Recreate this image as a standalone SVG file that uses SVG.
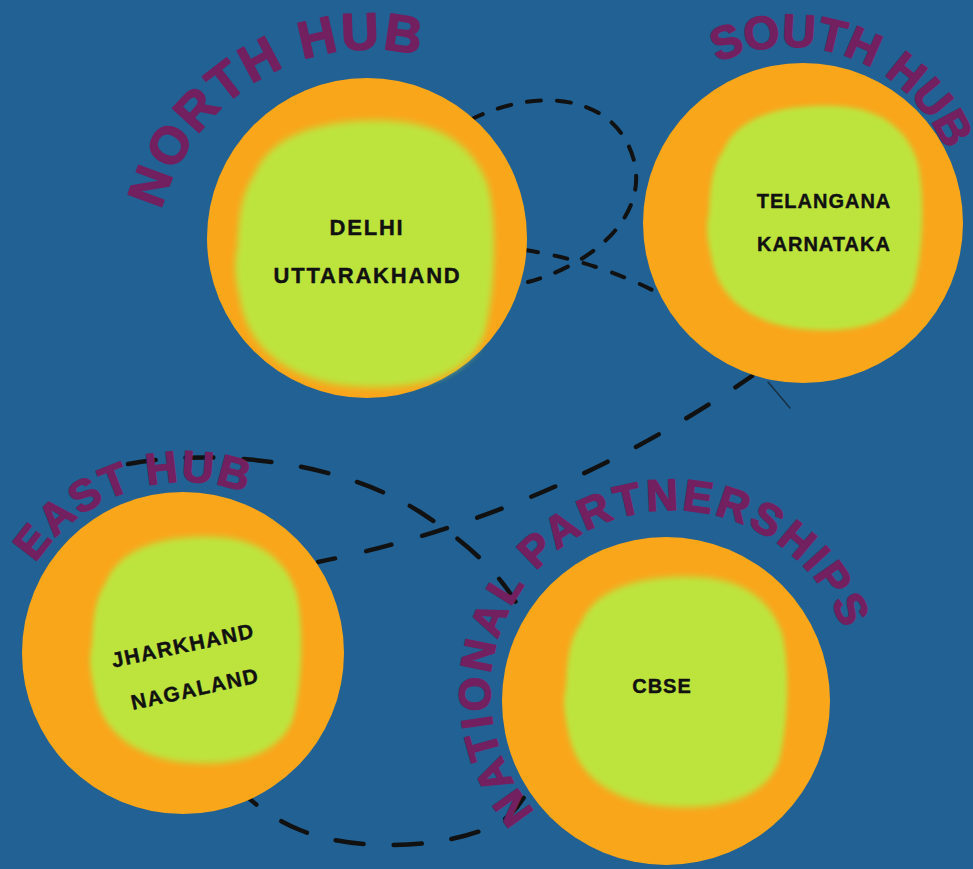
<svg xmlns="http://www.w3.org/2000/svg" xmlns:xlink="http://www.w3.org/1999/xlink" width="973" height="869" viewBox="0 0 973 869">
  <defs>
    <style>
      .ring { fill: #f9a61b; }
      .blob { fill: #bde43c; filter: url(#soft); }
      .label { font-family: "Liberation Sans", Arial, sans-serif; font-weight: 700; fill: #111111; stroke: #111111; stroke-width: 0.4; text-anchor: middle; }
      .title { font-family: "Liberation Sans", Arial, sans-serif; font-weight: 700; fill: #72205f; stroke: #72205f; stroke-width: 1.6; stroke-linejoin: round; text-anchor: middle; }
      .dash { fill: none; stroke: #111111; stroke-linecap: round; }
    </style>
    <filter id="soft" x="-20%" y="-20%" width="140%" height="140%">
      <feGaussianBlur stdDeviation="2.6"/>
    </filter>
    <path id="blobShape" d="M -85,-60 C -70,-95 -20,-102 20,-100 C 60,-98 85,-80 95,-50 C 102,-20 100,30 92,60 C 80,92 40,102 0,100 C -45,99 -85,80 -95,40 C -99,20 -102,10 -98,-5 C -97,-30 -95,-45 -85,-60 Z"/>
    <path id="arcNorth" d="M 182.4,372 A 216 216 0 0 1 553.8,151.5"/>
    <path id="arcSouth" d="M 632.4,151.3 A 170 170 0 0 1 949.7,273.1"/>
    <path id="arcEast" d="M 14.1,713.2 A 179 179 0 0 1 353.9,600.8"/>
    <path id="arcNational" d="M 581.8,850.1 A 182 182 0 1 1 854,691"/>
  </defs>

  <rect x="0" y="0" width="973" height="869" fill="#216193"/>

  <g id="connectors">
    <path class="dash" stroke-width="4" stroke-dasharray="14 16" d="M 470,120 C 540,85 620,95 635,165 C 645,220 590,265 528,282"/>
    <path class="dash" stroke-width="4" stroke-dasharray="13 17" d="M 525,250 Q 600,262 662,295"/>
    <path class="dash" stroke-width="4.5" stroke-dasharray="26 32" stroke-dashoffset="6" d="M 752,376 Q 550,515 318,562"/>
    <path class="dash" stroke-width="4.5" stroke-dasharray="28 30" d="M 128,464 C 200,450 330,455 420,512 C 470,545 520,585 535,650 C 550,720 545,780 510,815 C 470,848 360,855 300,830 C 275,820 255,805 240,790"/>
    <path class="dash" stroke-width="1.5" stroke-opacity="0.6" d="M 768,382 L 790,408"/>
  </g>

  <g id="north-hub">
    <circle class="ring" cx="367" cy="238" r="160"/>
    <use href="#blobShape" class="blob" transform="translate(365,254) scale(1.3,1.33)"/>
    <text class="label" x="367" y="235" font-size="22" letter-spacing="1.8">DELHI</text>
    <text class="label" x="367.5" y="283" font-size="22" letter-spacing="1.8">UTTARAKHAND</text>
  </g>

  <g id="south-hub">
    <circle class="ring" cx="803" cy="223" r="160"/>
    <use href="#blobShape" class="blob" transform="translate(815,218) scale(1.08,1.12)"/>
    <text class="label" x="824" y="208" font-size="20" letter-spacing="1">TELANGANA</text>
    <text class="label" x="824" y="251" font-size="20" letter-spacing="1">KARNATAKA</text>
  </g>

  <g id="east-hub">
    <circle class="ring" cx="183" cy="653" r="161"/>
    <use href="#blobShape" class="blob" transform="translate(196,650) scale(1.06,1.13)"/>
    <text class="label" x="184.5" y="652.5" font-size="21" letter-spacing="1.4" transform="rotate(-12 184.5 652.5)">JHARKHAND</text>
    <text class="label" x="196.5" y="696" font-size="21" letter-spacing="1.3" transform="rotate(-12.4 196.5 696)">NAGALAND</text>
  </g>

  <g id="national-partnerships">
    <circle class="ring" cx="666" cy="701" r="164"/>
    <use href="#blobShape" class="blob" transform="translate(676,692) scale(1.12,1.15)"/>
    <text class="label" x="662" y="693" font-size="20" letter-spacing="1">CBSE</text>
  </g>

  <g id="titles">
    <text class="title" font-size="52" letter-spacing="2.6"><textPath href="#arcNorth" startOffset="50%">NORTH HUB</textPath></text>
    <text class="title" font-size="46"><textPath href="#arcSouth" startOffset="50%">SOUTH HUB</textPath></text>
    <text class="title" font-size="44" letter-spacing="2"><textPath href="#arcEast" startOffset="50%">EAST HUB</textPath></text>
    <text class="title" font-size="44" letter-spacing="3"><textPath href="#arcNational" startOffset="50%">NATIONAL PARTNERSHIPS</textPath></text>
  </g>
</svg>
